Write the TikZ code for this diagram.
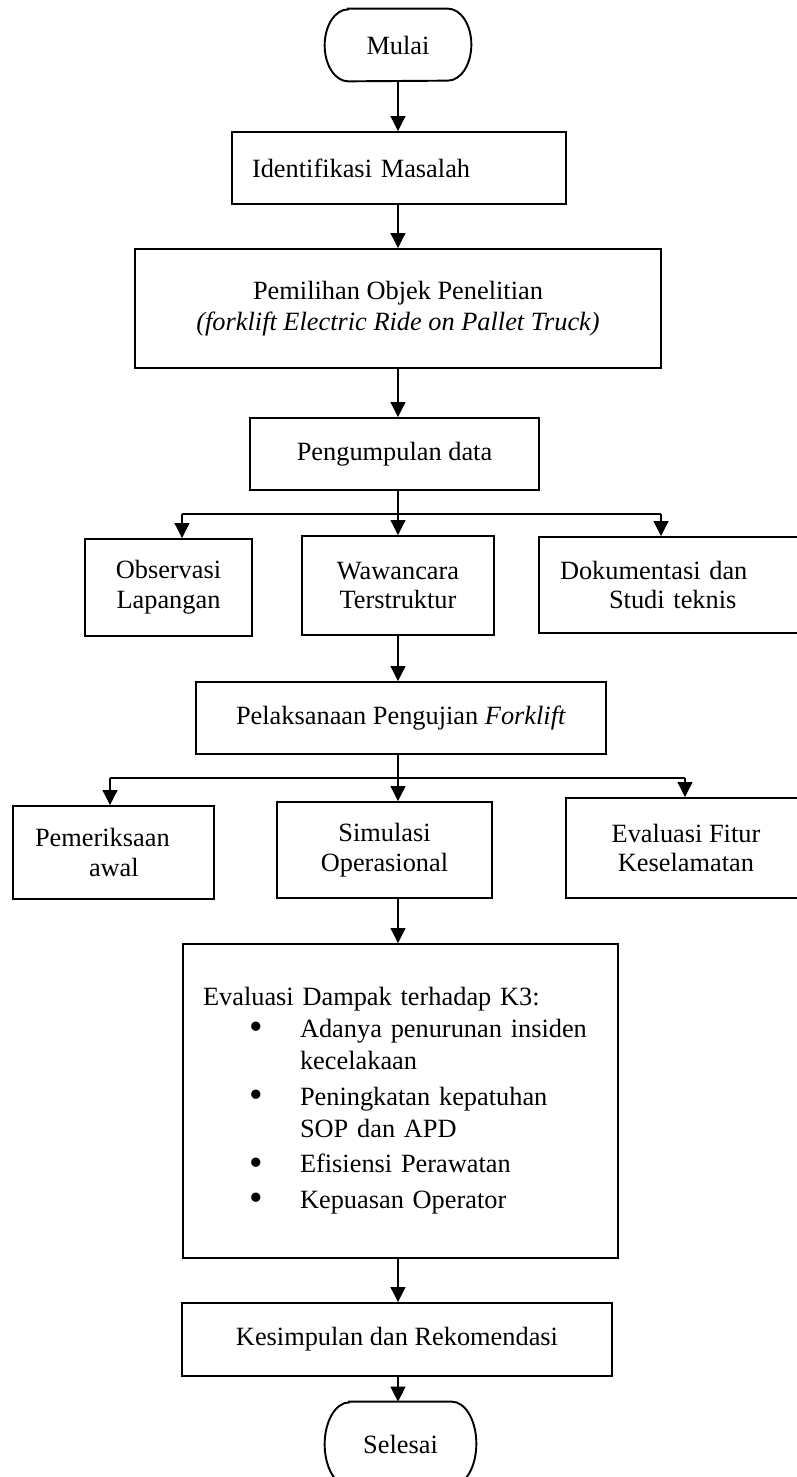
\documentclass[tikz,border=0pt]{standalone}
\usepackage{fontspec}
\setmainfont{Liberation Serif}
\usetikzlibrary{arrows.meta}
\newcommand{\butir}[1]{\hspace*{0.92cm}\makebox[1.02cm][l]{\smash{\raisebox{-0.08em}{\fontsize{22}{22}\selectfont\textbullet}}}#1}
\tikzset{
	kotak/.style={draw, line width=1.1pt, align=center, inner sep=0pt},
	ujung/.style={align=center, inner sep=0pt},
	panah/.style={line width=0.6pt, -{Triangle[length=8.5pt,width=8.5pt]}},
	garis/.style={line width=0.6pt},
}
\begin{document}
\begin{tikzpicture}[x=0.02cm, y=0.02cm, font=\fontsize{15}{17}\selectfont]
		\useasboundingbox (0,0) rectangle (796,-1477);
		\coordinate (poros) at (398,0);
		% Mulai dan Selesai
		\node[ujung, minimum width=2.92cm, minimum height=1.44cm] (mulai) at (398,-45) {Mulai};
		\node[ujung, minimum width=3.02cm, minimum height=1.68cm] (selesai) at (400.5,-1444) {Selesai};
		\foreach \t/\rx/\ry in {mulai/0.47/0.72, selesai/0.49/0.84}
		\draw[line width=1.1pt] ([xshift=\rx cm]\t.north west) -- ([xshift=-\rx cm]\t.north east)
			arc[start angle=90, end angle=-90, x radius=\rx cm, y radius=\ry cm]
			-- ([xshift=\rx cm]\t.south west)
			arc[start angle=270, end angle=90, x radius=\rx cm, y radius=\ry cm] -- cycle;
		% Tahap awal
		\node[kotak, align=left, text width=5.88cm, inner xsep=0.4cm, minimum height=1.44cm] (identifikasi) at (399,-168) {Identifikasi Masalah};
		\node[kotak, minimum width=10.52cm, minimum height=2.38cm] (pemilihan) at (398,-308.5) {Pemilihan Objek Penelitian\\[1pt] \textit{(forklift Electric Ride on Pallet Truck)}};
		\node[kotak, minimum width=5.78cm, minimum height=1.44cm] (pengumpulan) at (394.5,-454) {Pengumpulan data};
		% Cabang pengumpulan data
		\node[kotak, minimum width=3.34cm, minimum height=1.94cm] (observasi) at (168.5,-587.5) {Observasi\\Lapangan};
		\node[kotak, minimum width=3.84cm, minimum height=1.98cm] (wawancara) at (398,-585.5) {Wawancara\\Terstruktur};
		\node[kotak, align=left, text width=5.2cm, inner xsep=0.42cm, minimum height=1.92cm] (dokumentasi) at (690,-585) {Dokumentasi dan\\\hspace*{0.98cm}Studi teknis};
		\node[kotak, minimum width=8.2cm, minimum height=1.44cm] (pelaksanaan) at (401,-718) {Pelaksanaan Pengujian \textit{Forklift}};
		% Cabang pengujian
		\node[kotak, align=left, text width=3.14cm, inner xsep=0.44cm, minimum height=1.86cm] (pemeriksaan) at (113.5,-852.5) {Pemeriksaan\\\hspace*{1.08cm}awal};
		\node[kotak, minimum width=4.3cm, minimum height=1.92cm] (simulasi) at (384.5,-850) {Simulasi\\Operasional};
		\node[kotak, minimum width=4.8cm, minimum height=2cm] (fitur) at (686,-848) {Evaluasi Fitur\\Keselamatan};
		% Evaluasi dan hasil
		\node[kotak, align=left, text width=7.9cm, inner xsep=0.4cm, minimum height=6.28cm, font=\fontsize{15}{18.1}\selectfont] (dampak) at (400.5,-1101) {Evaluasi Dampak terhadap K3:\\
			\butir{Adanya penurunan insiden}\\
			\hspace*{1.94cm}kecelakaan\\[2.3pt]
			\butir{Peningkatan kepatuhan}\\
			\hspace*{1.94cm}SOP dan APD\\[2.3pt]
			\butir{Efisiensi Perawatan}\\[2.3pt]
			\butir{Kepuasan Operator}};
		\node[kotak, minimum width=8.6cm, minimum height=1.46cm] (kesimpulan) at (397,-1339.5) {Kesimpulan dan Rekomendasi};
		% Panah utama
		\foreach \a/\b in {mulai/identifikasi, identifikasi/pemilihan, pemilihan/pengumpulan, pengumpulan/wawancara, wawancara/pelaksanaan, pelaksanaan/simulasi, simulasi/dampak, dampak/kesimpulan, kesimpulan/selesai}
		\draw[panah] (\a.south -| poros) -- (\b.north -| poros);
		% Percabangan
		\coordinate (kiri1) at (182,-514);
		\coordinate (kanan1) at (661,-514);
		\draw[garis] (kiri1) -- (kanan1);
		\draw[panah] (kiri1) -- (kiri1 |- observasi.north);
		\draw[panah] (kanan1) -- (kanan1 |- dokumentasi.north);
		\coordinate (kiri2) at (110,-778);
		\coordinate (kanan2) at (685,-778);
		\draw[garis] (kiri2) -- (kanan2);
		\draw[panah] (kiri2) -- (kiri2 |- pemeriksaan.north);
		\draw[panah] (kanan2) -- (kanan2 |- fitur.north);
\end{tikzpicture}
\end{document}
